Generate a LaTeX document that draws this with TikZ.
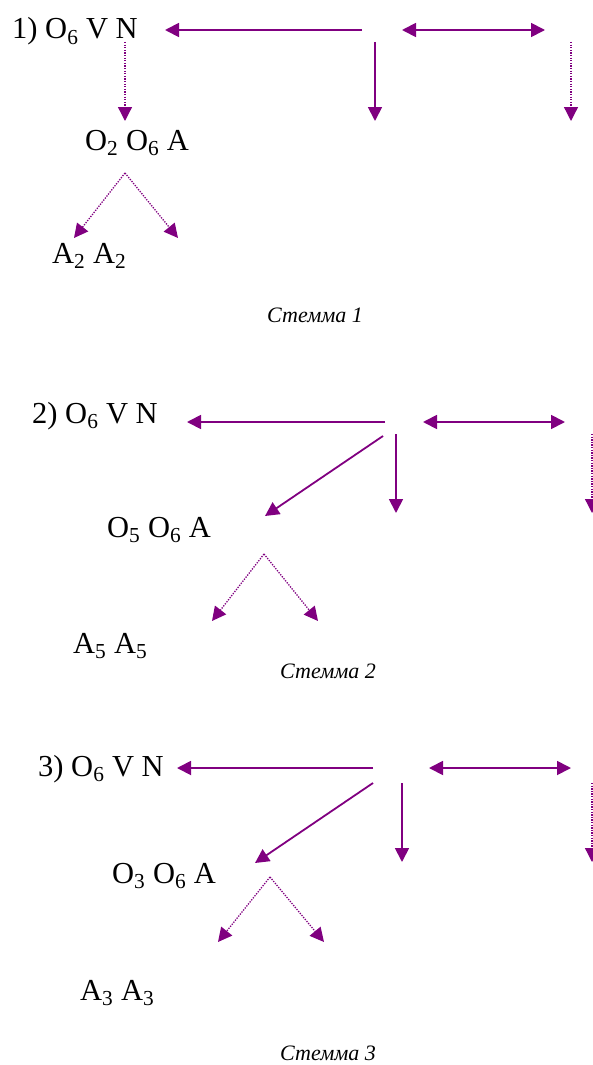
\documentclass[tikz,border=0pt]{standalone}
\usepackage{fontspec}
\setmainfont{Liberation Serif}
\usetikzlibrary{arrows.meta}
\definecolor{stemma}{HTML}{800080}
\tikzset{
  lbl/.style={inner sep=0pt, font=\fontsize{30.5}{34}\selectfont, anchor=base west},
  captxt/.style={inner sep=0pt, font=\fontsize{22}{26}\selectfont\itshape, anchor=base},
  tip/.style={Triangle[length=14pt,width=14pt]},
  solidarr/.style={draw=stemma, line width=1.8pt, -{Triangle[length=14pt,width=14pt]}},
  duoarr/.style={draw=stemma, line width=1.8pt, {Triangle[length=14pt,width=14pt]}-{Triangle[length=14pt,width=14pt]}},
  dotarr/.style={draw=stemma, line width=1.3pt, dash pattern=on 1.3pt off 1.3pt, -{Triangle[length=14pt,width=14pt]}},
}
\begin{document}
\begin{tikzpicture}[x=1pt,y=-1pt]
\useasboundingbox (0,0) rectangle (593,1065);
% ---- Stemma 1
\node[lbl] (t1) at (12,39) {1) O\textsubscript{6} V N};
\node[lbl] (m1) at (85,150) {O\textsubscript{2} O\textsubscript{6} A};
\node[lbl] (b1) at (52,263) {A\textsubscript{2} A\textsubscript{2}};
\node[captxt] (c1) at (315,322) {Стемма 1};
\coordinate (h1s) at (362,30); \coordinate (h1e) at (165,30);
\coordinate (v1s) at (375,42); \coordinate (v1e) at (375,121);
\coordinate (d1s) at (402,30); \coordinate (d1e) at (545,30);
\coordinate (r1s) at (571,42); \coordinate (r1e) at (571,121);
\coordinate (n1s) at (125,42); \coordinate (n1e) at (125,121);
\coordinate (f1) at (125,173); \coordinate (f1l) at (74,238); \coordinate (f1r) at (178,238);
\draw[solidarr] (h1s) -- (h1e);
\draw[solidarr] (v1s) -- (v1e);
\draw[duoarr] (d1s) -- (d1e);
\draw[dotarr] (r1s) -- (r1e);
\draw[dotarr] (n1s) -- (n1e);
\draw[dotarr] (f1) -- (f1l);
\draw[dotarr] (f1) -- (f1r);
% ---- Stemma 2
\node[lbl] (t2) at (32,423) {2) O\textsubscript{6} V N};
\node[lbl] (m2) at (107,537) {O\textsubscript{5} O\textsubscript{6} A};
\node[lbl] (b2) at (73,653) {A\textsubscript{5} A\textsubscript{5}};
\node[captxt] (c2) at (328,678) {Стемма 2};
\coordinate (h2s) at (385,422); \coordinate (h2e) at (187,422);
\coordinate (g2s) at (383,436); \coordinate (g2e) at (265,516);
\coordinate (v2s) at (396,434); \coordinate (v2e) at (396,513);
\coordinate (d2s) at (423,422); \coordinate (d2e) at (565,422);
\coordinate (r2s) at (592,434); \coordinate (r2e) at (592,513);
\coordinate (f2) at (264,554); \coordinate (f2l) at (212,621); \coordinate (f2r) at (318,621);
\draw[solidarr] (h2s) -- (h2e);
\draw[solidarr] (g2s) -- (g2e);
\draw[solidarr] (v2s) -- (v2e);
\draw[duoarr] (d2s) -- (d2e);
\draw[dotarr] (r2s) -- (r2e);
\draw[dotarr] (f2) -- (f2l);
\draw[dotarr] (f2) -- (f2r);
% ---- Stemma 3
\node[lbl] (t3) at (38,776) {3) O\textsubscript{6} V N};
\node[lbl] (m3) at (112,883) {O\textsubscript{3} O\textsubscript{6} A};
\node[lbl] (b3) at (80,1000) {A\textsubscript{3} A\textsubscript{3}};
\node[captxt] (c3) at (328,1060) {Стемма 3};
\coordinate (h3s) at (373,768); \coordinate (h3e) at (177,768);
\coordinate (g3s) at (373,783); \coordinate (g3e) at (255,863);
\coordinate (v3s) at (402,783); \coordinate (v3e) at (402,862);
\coordinate (d3s) at (429,768); \coordinate (d3e) at (571,768);
\coordinate (r3s) at (592,783); \coordinate (r3e) at (592,862);
\coordinate (f3) at (270,877); \coordinate (f3l) at (218,942); \coordinate (f3r) at (324,942);
\draw[solidarr] (h3s) -- (h3e);
\draw[solidarr] (g3s) -- (g3e);
\draw[solidarr] (v3s) -- (v3e);
\draw[duoarr] (d3s) -- (d3e);
\draw[dotarr] (r3s) -- (r3e);
\draw[dotarr] (f3) -- (f3l);
\draw[dotarr] (f3) -- (f3r);
\end{tikzpicture}
\end{document}
